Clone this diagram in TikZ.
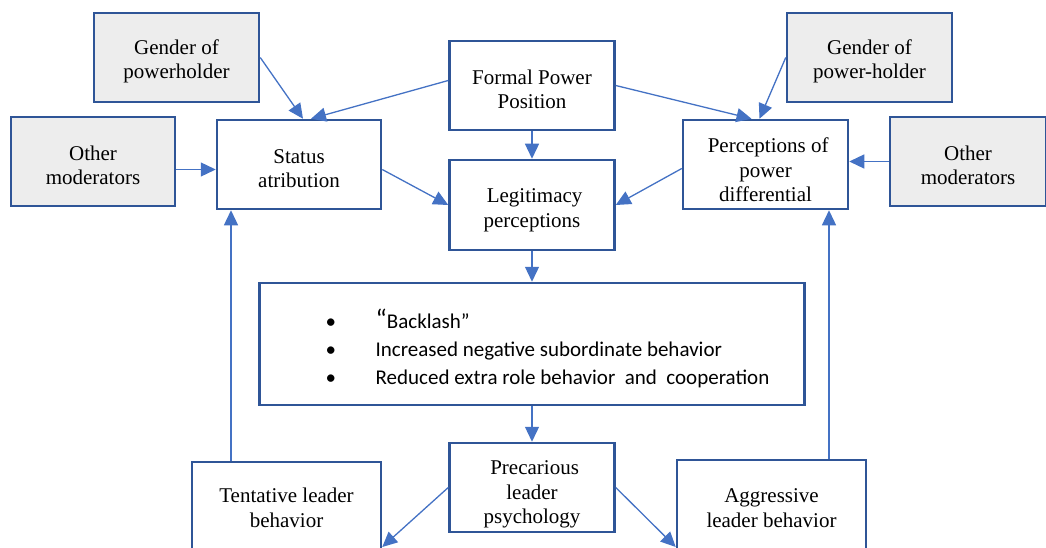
\documentclass[tikz,border=0pt]{standalone}
\usepackage{fontspec}
\setmainfont{Liberation Serif}
\newfontfamily\boxfont{Liberation Serif}
\newfontfamily\listfont{Carlito}
\usetikzlibrary{arrows.meta}
\definecolor{boxline}{RGB}{47,85,151}
\definecolor{arrowline}{RGB}{68,114,196}
\definecolor{modfill}{RGB}{237,237,237}
\newcommand{\toppad}[1][22pt]{\rule{0pt}{#1}}

\begin{document}
\begin{tikzpicture}[x=1pt, y=-1pt,
  box/.style={draw=boxline, line width=2.5pt, fill=white, align=center, inner sep=2pt,
    minimum width=165pt, minimum height=89pt, font=\boxfont\fontsize{21}{24.5}\selectfont},
  modbox/.style={box, fill=modfill},
  link/.style={color=arrowline, line width=1.3pt, -{Triangle[length=15pt,width=14pt]}}]
  \useasboundingbox (0,0) rectangle (1046,548);

  \node[modbox] (genderL) at (176.5,57.5) {\toppad Gender of\\powerholder};
  \node[box] (formal) at (532,85.5) {\toppad Formal Power\\Position};
  \node[modbox] (genderR) at (869.5,57.5) {\toppad Gender of\\power-holder};
  \node[modbox, minimum width=164pt] (otherL) at (93,161.5) {\toppad Other\\moderators};
  \node[box, minimum width=164pt] (status) at (299,164.5) {\toppad Status\\atribution};
  \node[box, minimum height=90pt] (legit) at (532,205) {\toppad[24pt] Legitimacy\\perceptions};
  \node[box] (powerdiff) at (765.5,164.5) {\toppad[26pt] Perceptions of\\power\\differential};
  \node[modbox, minimum width=156pt] (otherR) at (968,161.5) {\toppad Other\\moderators};
  \node[box, minimum width=545pt, minimum height=122pt,
    font=\listfont\fontsize{21}{28}\selectfont] (backlash) at (532,344)
    {\begin{tabular}{@{\hspace{31pt}}p{50pt}@{}l@{}}
      \noalign{\vspace{14pt}}
      \textbullet & {\fontsize{27}{28}\selectfont “}Backlash” \\
      \textbullet & Increased negative subordinate behavior \\
      \textbullet & Reduced extra role behavior\ \ and\ \ cooperation
    \end{tabular}};
  \node[box, minimum width=189pt, minimum height=92pt] (tentative) at (286.5,508) {Tentative leader\\behavior};
  \node[box] (precarious) at (532,487.5) {\toppad[28pt] Precarious\\leader\\psychology};
  \node[box, minimum width=189pt, minimum height=96pt] (aggressive) at (771.5,508) {Aggressive\\leader behavior};

  \path[link]
  (genderL.east) edge ([xshift=4pt]status.north)
  ([yshift=5pt]formal.west) edge ([xshift=12pt]status.north)
  (formal.south) edge (legit.north)
  (formal.east) edge ([xshift=-14pt]powerdiff.north)
  (genderR.west) edge ([xshift=-6pt]powerdiff.north)
  ([yshift=-8pt]otherL.east) edge ([yshift=-8pt]otherL.east -| status.west)
  (otherR.west) edge (otherR.west -| powerdiff.east)
  ([yshift=-5pt]status.east) edge (legit.west)
  ([yshift=-4pt]powerdiff.west) edge (legit.east)
  (legit.south) edge (backlash.north)
  (backlash.south) edge (precarious.north)
  (precarious.west) edge ([yshift=-39pt]tentative.east)
  (precarious.east) edge ([yshift=-39pt]aggressive.west)
  ([xshift=-55.5pt]tentative.north) edge ([xshift=-68pt]status.south)
  ([xshift=57.5pt]aggressive.north) edge ([xshift=63.5pt]powerdiff.south)
  ;
\end{tikzpicture}
\end{document}
